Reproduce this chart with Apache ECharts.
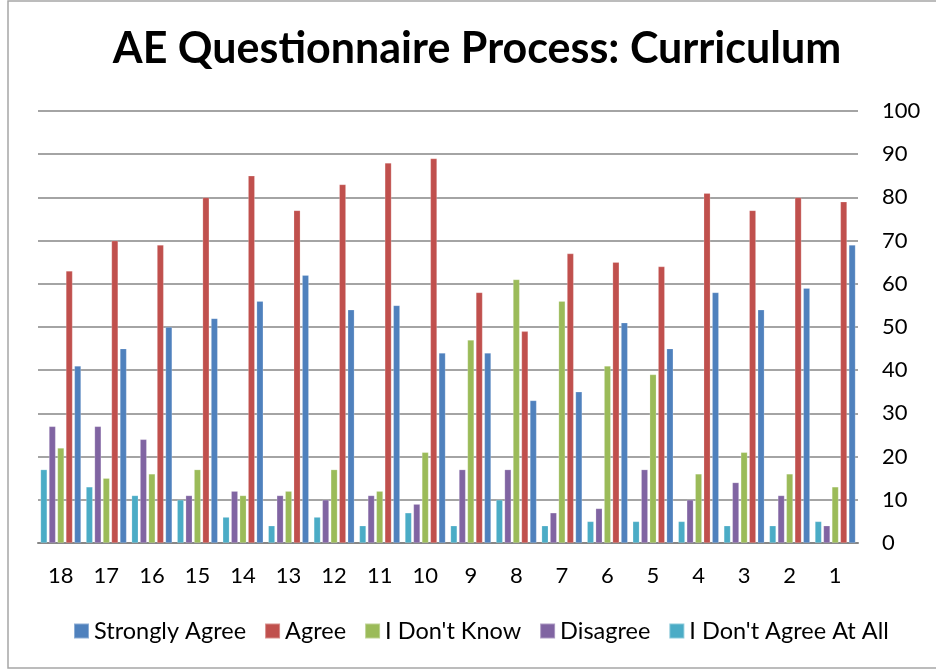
<!DOCTYPE html>
<html>
<head>
<meta charset="utf-8">
<script src="https://cdn.jsdelivr.net/npm/echarts@6/dist/echarts.min.js"></script>
<style>
html,body{margin:0;padding:0;background:#fff;}
#chart{width:936px;height:670px;}
</style>
</head>
<body>
<div id="chart"></div>
<script>
const categories = ['18','17','16','15','14','13','12','11','10','9','8','7','6','5','4','3','2','1'];
const yTicks = [0,10,20,30,40,50,60,70,80,90,100];
const seriesNames = ['Strongly Agree','Agree',"I Don't Know",'Disagree',"I Don't Agree At All"];
const stronglyAgree = [41,45,50,52,56,62,54,55,44,44,33,35,51,45,58,54,59,69];
const agree = [63,70,69,80,85,77,83,88,89,58,49,67,65,64,81,77,80,79];
const dontKnow = [22,15,16,17,11,12,17,12,21,47,61,56,41,39,16,21,16,13];
const disagree = [27,27,24,11,12,11,10,11,9,17,17,7,8,17,10,14,11,4];
const notAtAll = [17,13,11,10,6,4,6,4,7,4,10,4,5,5,5,4,4,5];
const colors = ['#4F81BD','#C0504D','#9BBB59','#8064A2','#4BACC6'];

const FONT = 'Lato';
const valuesBySeries = [stronglyAgree, agree, dontKnow, disagree, notAtAll];
// drawn left-to-right within a cluster in reverse series order (as in the reference)
const drawOrder = [4,3,2,1,0];
const series = drawOrder.map(i => ({
  name: seriesNames[i],
  type: 'bar',
  data: valuesBySeries[i],
  barGap: '27%',
  barCategoryGap: '11%',
  itemStyle: {color: colors[i], borderColor: 'rgba(255,255,255,0.35)', borderWidth: 0.6},
  emphasis: {disabled: true}
}));

const chart = echarts.init(document.getElementById('chart'));
chart.setOption({
  animation: false,
  color: colors,
  title: {
    text: 'AE Questionnaire Process: Curriculum',
    left: 472, textAlign: 'center', top: 23,
    textStyle: {fontFamily: FONT, fontWeight: 'bold', fontSize: 43, color: '#000'}
  },
  legend: {
    data: seriesNames,
    left: 73, top: 619, padding: 0,
    itemWidth: 15, itemHeight: 15, itemGap: 18,
    icon: 'rect',
    textStyle: {fontFamily: FONT, fontSize: 23.5, color: '#000'}
  },
  grid: {left: 38, right: 78, top: 111, bottom: 127, outerBoundsMode: 'none'},
  xAxis: {
    type: 'category',
    data: categories,
    axisLine: {lineStyle: {color: '#868686', width: 2}},
    axisTick: {show: false},
    axisLabel: {fontFamily: FONT, fontSize: 22, color: '#000', margin: 22}
  },
  yAxis: {
    type: 'value',
    position: 'right',
    min: yTicks[0], max: yTicks[yTicks.length-1], interval: 10,
    axisLine: {show: false},
    axisTick: {show: false},
    splitLine: {lineStyle: {color: '#868686', width: 1.5}},
    axisLabel: {fontFamily: FONT, fontSize: 22, color: '#000', margin: 24}
  },
  graphic: [{
    type: 'rect', silent: true, z: -1,
    shape: {x: 8, y: 1, width: 940, height: 667},
    style: {fill: 'none', stroke: '#a6a6a6', lineWidth: 1.5}
  }],
  series: series
});
</script>
</body>
</html>
